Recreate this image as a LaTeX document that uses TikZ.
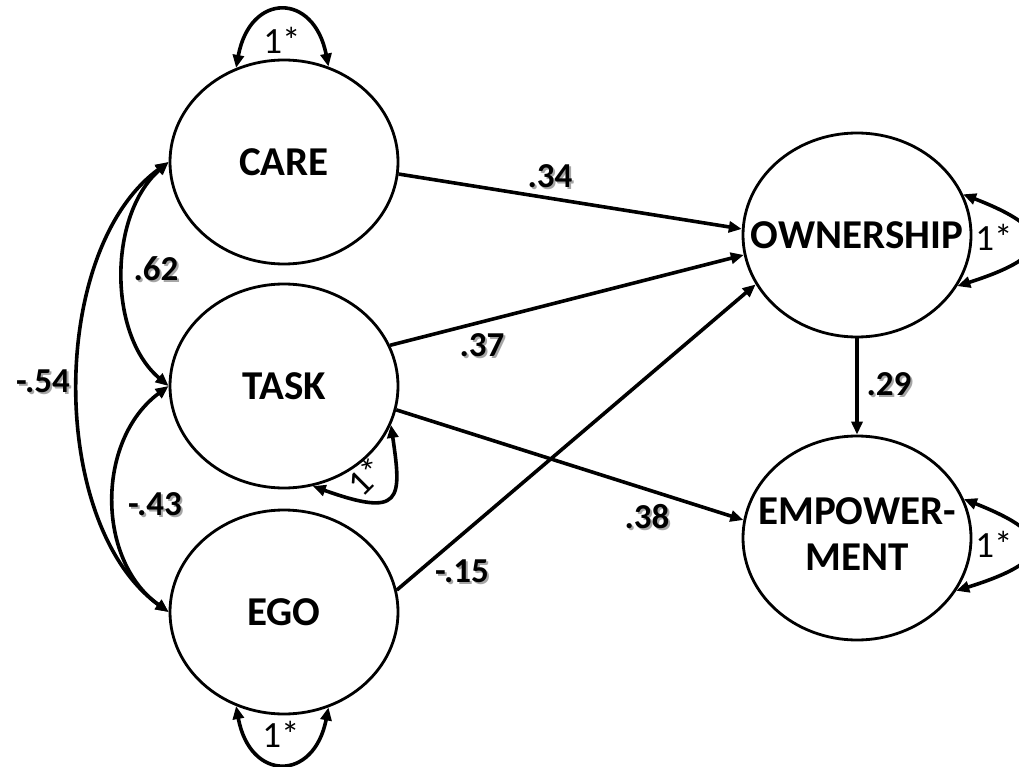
\documentclass[tikz,border=0pt]{standalone}
\usepackage{fontspec}
\setmainfont{Carlito}
\usetikzlibrary{shapes.geometric,arrows.meta}
\tikzset{
  lat/.style={ellipse,draw,line width=2.8pt,minimum width=228pt,minimum height=204pt,inner sep=0pt,font=\fontsize{41}{48}\selectfont\bfseries},
  path/.style={line width=3.6pt,-{Triangle[length=13pt,width=11pt]}},
  cov/.style={line width=3.6pt,{Triangle[length=13pt,width=11pt]}-{Triangle[length=13pt,width=11pt]}},
  num/.style={font=\fontsize{35}{38}\selectfont\bfseries,inner sep=0pt},
  numsh/.style={num,text=black!35},
  var/.style={font=\fontsize{37}{40}\selectfont,inner sep=0pt}
}
\newcommand{\shlab}[3]{\node[numsh] at (#1+2,#2+2) {#3};\node[num] at (#1,#2) {#3};}
\newcommand{\zb}[1]{\makebox[0pt]{#1}}
\begin{document}
\begin{tikzpicture}[x=1pt,y=-1pt]
\useasboundingbox[fill=white] (0,0) rectangle (1019,767);
\node[lat] (care) at (284,162) {\zb{CARE}};
\node[lat] (task) at (284,386) {\zb{TASK}};
\node[lat] (ego) at (284,612) {\zb{EGO}};
\node[lat] (own) at (857,235) {\zb{OWNERSHIP}};
\node[lat] (emp) at (857,538) {\zb{\begin{tabular}{@{}c@{}}EMPOWER-\\[-2pt]MENT\end{tabular}}};
% paths
\draw[path] (care.-6) -- (own.177);
\draw[path] (task.21) -- (own.190);
\draw[path] (ego.11) -- (own.206);
\draw[path] (task.-12) -- (emp.171);
\draw[path] (own.south) -- (emp.north);
% covariances
\draw[cov] (care.west) .. controls (108,215) and (108,335) .. (task.west);
\draw[cov] (task.west) .. controls (96,440) and (96,560) .. (ego.west);
\draw[cov] (care.west) .. controls (48,250) and (48,525) .. (ego.west);
% variances
\draw[cov] (care.117) .. controls (250,-8) and (314,-8) .. (care.65);
\draw[cov] (ego.243) .. controls (250,782) and (314,782) .. (ego.295);
\draw[cov] (own.21) .. controls (1055,230) and (1055,255) .. (own.-27);
\draw[cov] (emp.20) .. controls (1055,535) and (1055,560) .. (emp.-28);
\draw[cov] (task.-20) .. controls (402,500) and (402,518) .. (task.-74);
% labels
\shlab{550}{176}{.34}
\shlab{482}{345}{.37}
\shlab{647}{517}{.38}
\shlab{462}{571}{-.15}
\shlab{156}{269}{.62}
\shlab{43}{381}{-.54}
\shlab{155}{504}{-.43}
\shlab{889}{384}{.29}
\node[var] (v1) at (282,40) {1*};
\node[var] (v2) at (281,734) {1*};
\node[var] (v3) at (994,237) {1*};
\node[var] (v4) at (994,544) {1*};
\node[var,rotate=45] (v5) at (366,476) {1*};
\end{tikzpicture}
\end{document}
